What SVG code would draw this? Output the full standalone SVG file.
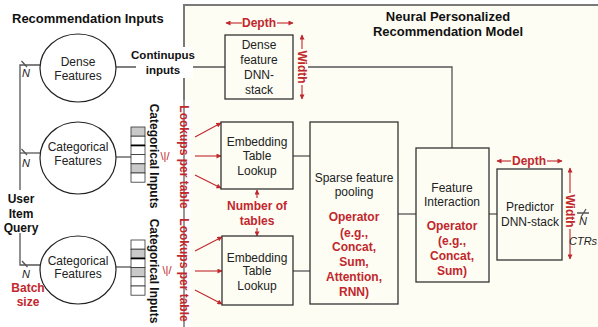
<svg xmlns="http://www.w3.org/2000/svg" width="598" height="327" viewBox="0 0 598 327">
<style>
text{font-family:"Liberation Sans",Arial,sans-serif}
.h{font-weight:bold;font-size:13px;fill:#111}
.b{font-weight:bold;font-size:12px;fill:#111}
.bc{font-weight:bold;font-size:11.5px;fill:#111}
.r{font-weight:bold;font-size:12px;fill:#c1272d}
.n{font-size:12px;fill:#222}
.i{font-style:italic;font-size:11px;fill:#222}
.m{text-anchor:middle}
.box{fill:#fdfdf4;stroke:#333;stroke-width:1.3}
.ell{fill:#fff;stroke:#222;stroke-width:1.2}
.ln{fill:none;stroke:#555;stroke-width:1.3}
.ra{fill:none;stroke:#c1272d;stroke-width:1.1}
.cw{fill:#fff;stroke:#333;stroke-width:0.8}
.cg{fill:#c9c9c9;stroke:#333;stroke-width:0.8}
</style>
<defs>
<marker id="ah" viewBox="0 0 10 10" refX="9" refY="5" markerWidth="6" markerHeight="5" markerUnits="userSpaceOnUse" orient="auto">
<path d="M0,0 L10,5 L0,10 z" fill="#c1272d"/>
</marker>
</defs>

<rect x="184" y="5" width="420" height="330" fill="#fdfdf4" stroke="#7a7a7a" stroke-width="2"/>

<text class="h" x="12" y="23">Recommendation Inputs</text>
<text class="h m" x="448" y="21">Neural Personalized</text>
<text class="h m" x="448" y="36">Recommendation Model</text>

<g id="connectors">
<path class="ln" d="M116,67 H225"/>
<path class="ln" d="M308,67 H452 V148"/>
<path class="ln" d="M293,156 H310"/>
<path class="ln" d="M293,271 H310"/>
<path class="ln" d="M398,214 H416"/>
<path class="ln" d="M489,214 H497"/>
<path class="ln" d="M40,65 H20 V190"/>
<path class="ln" d="M20,153 H40"/>
<path class="ln" d="M20,233 V265 H40"/>
<path class="ln" d="M116,157 H131"/>
<path class="ln" d="M116,267 H131"/>
<path class="ln" d="M21.5,61 L27,67 M21.5,149 L27,155 M22,261 L27.5,267"/>
<path class="ln" d="M577,213 H589 M581,217 L586,209" stroke-width="1"/>
<rect x="136" y="47" width="57" height="31" fill="#fff"/>
<text class="bc m" x="163" y="59">Continupus</text>
<text class="bc m" x="163" y="74">inputs</text>
<path class="ra" marker-end="url(#ah)" d="M195,137 L221,123"/>
<path class="ra" marker-end="url(#ah)" d="M195,156 L221,156"/>
<path class="ra" marker-end="url(#ah)" d="M195,175 L221,188"/>
<path class="ra" marker-end="url(#ah)" d="M195,251 L222,237"/>
<path class="ra" marker-end="url(#ah)" d="M195,271 L222,271"/>
<path class="ra" marker-end="url(#ah)" d="M195,290 L222,304"/>
<path class="ra" marker-end="url(#ah)" d="M257,198 V190"/>
<path class="ra" marker-end="url(#ah)" d="M257,228 V236"/>
<path class="ra" marker-end="url(#ah)" d="M242,23 H226"/>
<path class="ra" marker-end="url(#ah)" d="M277,23 H293"/>
<path class="ra" marker-end="url(#ah)" d="M302,49 V35"/>
<path class="ra" marker-end="url(#ah)" d="M302,85 V99"/>
<path class="ra" marker-end="url(#ah)" d="M511,161 H497"/>
<path class="ra" marker-end="url(#ah)" d="M547,161 H562"/>
<path class="ra" marker-end="url(#ah)" d="M570,193 V168"/>
<path class="ra" marker-end="url(#ah)" d="M570,229 V259"/>
</g>

<g id="labels">
<text class="r m" x="259" y="27">Depth</text>
<text class="r m" x="529" y="165">Depth</text>
<text class="r m" transform="translate(298,67) rotate(90)">Width</text>
<text class="r m" transform="translate(566,211) rotate(90)">Width</text>
<text class="r m" x="257" y="210">Number of</text>
<text class="r m" x="257" y="225">tables</text>
<text class="b m" x="21" y="203">User</text>
<text class="b m" x="21" y="217.5">Item</text>
<text class="b m" x="21" y="232">Query</text>
<text class="r m" x="28" y="292">Batch</text>
<text class="r m" x="28" y="306">size</text>
<text class="i m" x="26" y="77">N</text>
<text class="i m" x="26" y="167">N</text>
<text class="i m" x="26" y="278">N</text>
<text class="i m" x="583" y="225">N</text>
<text class="i" x="569" y="245">CTRs</text>
<text class="b m" transform="translate(149.5,156) rotate(90)">Categorical Inputs</text>
<text class="b m" transform="translate(149.5,271) rotate(90)">Categorical Inputs</text>
<rect x="176" y="100" width="15" height="227" fill="#fff"/>
<path d="M184,100 V327" stroke="#555" stroke-width="1.2"/>
<text class="r m" transform="translate(179.5,157) rotate(90)">Lookups per table</text>
<text class="r m" transform="translate(179.5,270) rotate(90)">Lookups per table</text>
<text class="r m" style="font-size:11px;font-weight:normal" x="165" y="160">\|/</text>
<text class="r m" style="font-size:11px;font-weight:normal" x="167" y="274">\|/</text>
</g>

<g id="dense-features">
<ellipse class="ell" cx="78" cy="68" rx="38" ry="34"/>
<text class="n m" x="78" y="66">Dense</text>
<text class="n m" x="78" y="80">Features</text>
</g>
<g id="categorical-features-1">
<ellipse class="ell" cx="78" cy="158" rx="38" ry="36"/>
<text class="n m" x="78" y="151">Categorical</text>
<text class="n m" x="78" y="165">Features</text>
</g>
<g id="categorical-features-2">
<ellipse class="ell" cx="78" cy="270" rx="38" ry="34"/>
<text class="n m" x="78" y="265">Categorical</text>
<text class="n m" x="78" y="278">Features</text>
</g>
<g id="categorical-inputs-1">
<rect class="cg" x="131" y="127" width="14" height="9.2"/>
<rect class="cw" x="131" y="136.2" width="14" height="9.2"/>
<rect class="cw" x="131" y="145.4" width="14" height="9.2"/>
<rect class="cw" x="131" y="154.6" width="14" height="9.2"/>
<rect class="cg" x="131" y="163.8" width="14" height="9.2"/>
<rect class="cw" x="131" y="173" width="14" height="9.2"/>
<path d="M131,145.4 H145" stroke="#000" stroke-width="1.8"/>
</g>
<g id="categorical-inputs-2">
<rect class="cw" x="131" y="240" width="14" height="9.2"/>
<rect class="cg" x="131" y="249.2" width="14" height="9.2"/>
<rect class="cw" x="131" y="258.4" width="14" height="9.2"/>
<rect class="cg" x="131" y="267.6" width="14" height="9.2"/>
<rect class="cw" x="131" y="276.8" width="14" height="9.2"/>
<rect class="cw" x="131" y="286" width="14" height="9.2"/>
<path d="M131,258.4 H145" stroke="#000" stroke-width="1.8"/>
</g>
<g id="dense-dnn">
<rect class="box" x="225" y="35" width="68" height="64"/>
<text class="n m" x="259" y="49">Dense</text>
<text class="n m" x="259" y="64">feature</text>
<text class="n m" x="259" y="79">DNN-</text>
<text class="n m" x="259" y="94">stack</text>
</g>
<g id="embedding-1">
<rect class="box" x="221" y="122" width="72" height="67"/>
<text class="n m" x="257" y="146">Embedding</text>
<text class="n m" x="257" y="160">Table</text>
<text class="n m" x="257" y="175">Lookup</text>
</g>
<g id="embedding-2">
<rect class="box" x="222" y="236" width="71" height="69"/>
<text class="n m" x="257" y="262">Embedding</text>
<text class="n m" x="257" y="275">Table</text>
<text class="n m" x="257" y="290">Lookup</text>
</g>
<g id="sparse-pooling">
<rect class="box" x="310" y="122" width="88" height="182"/>
<text class="n m" x="354" y="182">Sparse feature</text>
<text class="n m" x="354" y="196">pooling</text>
<text class="r m" x="354" y="221">Operator</text>
<text class="r m" x="354" y="237">(e.g.,</text>
<text class="r m" x="354" y="251">Concat,</text>
<text class="r m" x="354" y="266">Sum,</text>
<text class="r m" x="354" y="281">Attention,</text>
<text class="r m" x="354" y="296">RNN)</text>
</g>
<g id="feature-interaction">
<rect class="box" x="416" y="148" width="73" height="134"/>
<text class="n m" x="452" y="192">Feature</text>
<text class="n m" x="452" y="206">Interaction</text>
<text class="r m" x="452" y="230">Operator</text>
<text class="r m" x="452" y="245">(e.g.,</text>
<text class="r m" x="452" y="260">Concat,</text>
<text class="r m" x="452" y="275">Sum)</text>
</g>
<g id="predictor">
<rect class="box" x="497" y="169" width="65" height="91"/>
<text class="n m" x="530" y="211">Predictor</text>
<text class="n m" x="530" y="226">DNN-stack</text>
</g>
</svg>
